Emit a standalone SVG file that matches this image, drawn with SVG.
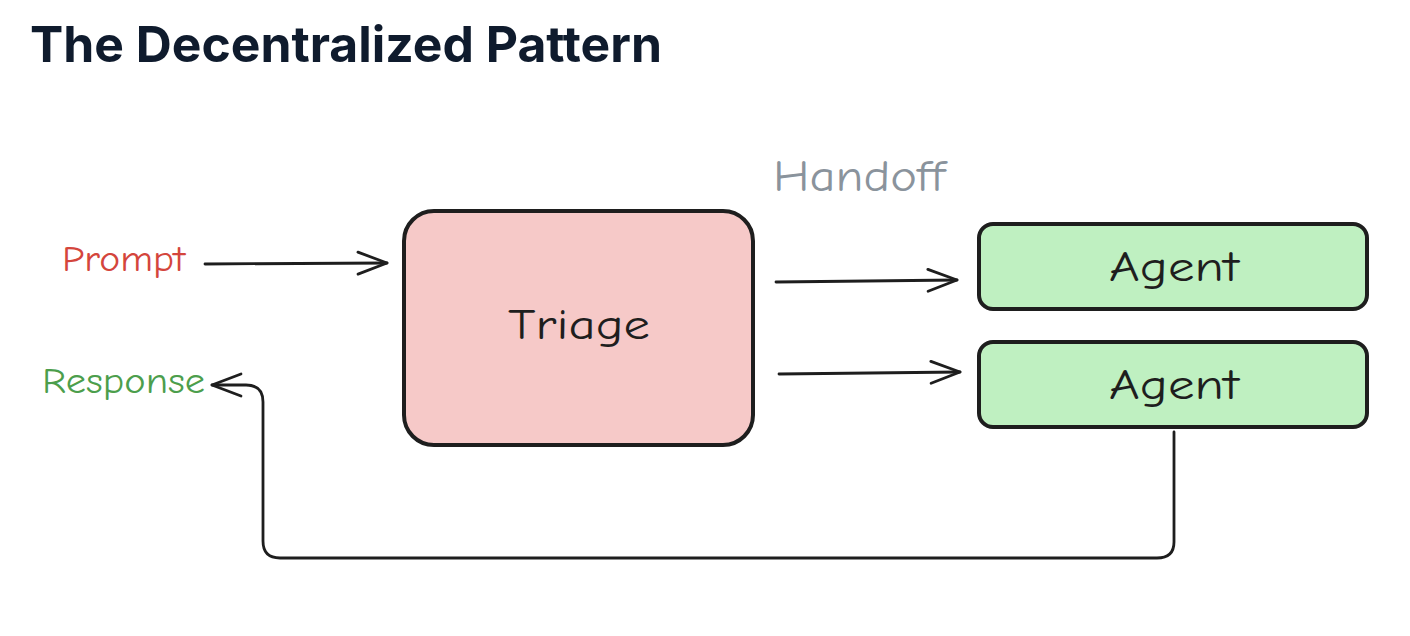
<svg xmlns="http://www.w3.org/2000/svg" width="1410" height="636" viewBox="0 0 1410 636">
<style>
.title{font-family:Inter,"Liberation Sans",sans-serif;font-weight:700;font-size:50px;fill:#0f1b2d}
.hand{font-family:"Comic Neue","Noto Sans","DejaVu Sans",sans-serif}
.node{stroke:#1e1e1e;stroke-width:4}
.lbl{font-size:42px;fill:#1e1e1e;text-anchor:middle}
.edge{fill:none;stroke:#1e1e1e;stroke-width:2.8;stroke-linecap:round;stroke-linejoin:round}
</style>
<defs>
<marker id="ah" markerWidth="34" markerHeight="26" viewBox="-31 -13 34 26" refX="0" refY="0" orient="auto" markerUnits="userSpaceOnUse">
<path d="M-29,-11 L0,0 L-29,11" fill="none" stroke="#1e1e1e" stroke-width="2.8" stroke-linecap="round" stroke-linejoin="round"/>
</marker>
</defs>
<rect width="1410" height="636" fill="#ffffff"/>
<text class="title" x="30" y="62" textLength="632" lengthAdjust="spacingAndGlyphs">The Decentralized Pattern</text>
<g id="prompt"><text class="hand" x="62" y="271" font-size="37" fill="#d4453c" textLength="123" lengthAdjust="spacingAndGlyphs">Prompt</text></g>
<g id="response"><text class="hand" x="42" y="393" font-size="37" fill="#4c9e4c" textLength="163" lengthAdjust="spacingAndGlyphs">Response</text></g>
<g id="handoff"><text class="hand" x="773" y="191" font-size="44" fill="#8a939c" textLength="172" lengthAdjust="spacingAndGlyphs">Handoff</text></g>
<g id="triage">
<rect class="node" x="404" y="211" width="349" height="234" rx="30" fill="#f6c9c8"/>
<text class="hand lbl" x="579" y="339" textLength="142" lengthAdjust="spacingAndGlyphs">Triage</text>
</g>
<g id="agent1">
<rect class="node" x="979" y="224" width="388" height="85" rx="14" fill="#bff0c1"/>
<text class="hand lbl" x="1174" y="281" textLength="130" lengthAdjust="spacingAndGlyphs">Agent</text>
</g>
<g id="agent2">
<rect class="node" x="979" y="342" width="388" height="85" rx="14" fill="#bff0c1"/>
<text class="hand lbl" x="1174" y="399" textLength="130" lengthAdjust="spacingAndGlyphs">Agent</text>
</g>
<g id="connectors">
<path class="edge" d="M205,264 L387,263" marker-end="url(#ah)"/>
<path class="edge" d="M776,282 L957,280" marker-end="url(#ah)"/>
<path class="edge" d="M779,374 L960,372" marker-end="url(#ah)"/>
<path class="edge" d="M1174,432 L1174,542 Q1174,558 1157,558 L280,558 Q263,558 263,541 L263,402 Q263,385 246,385 L212,385" marker-end="url(#ah)"/>
</g>
</svg>
